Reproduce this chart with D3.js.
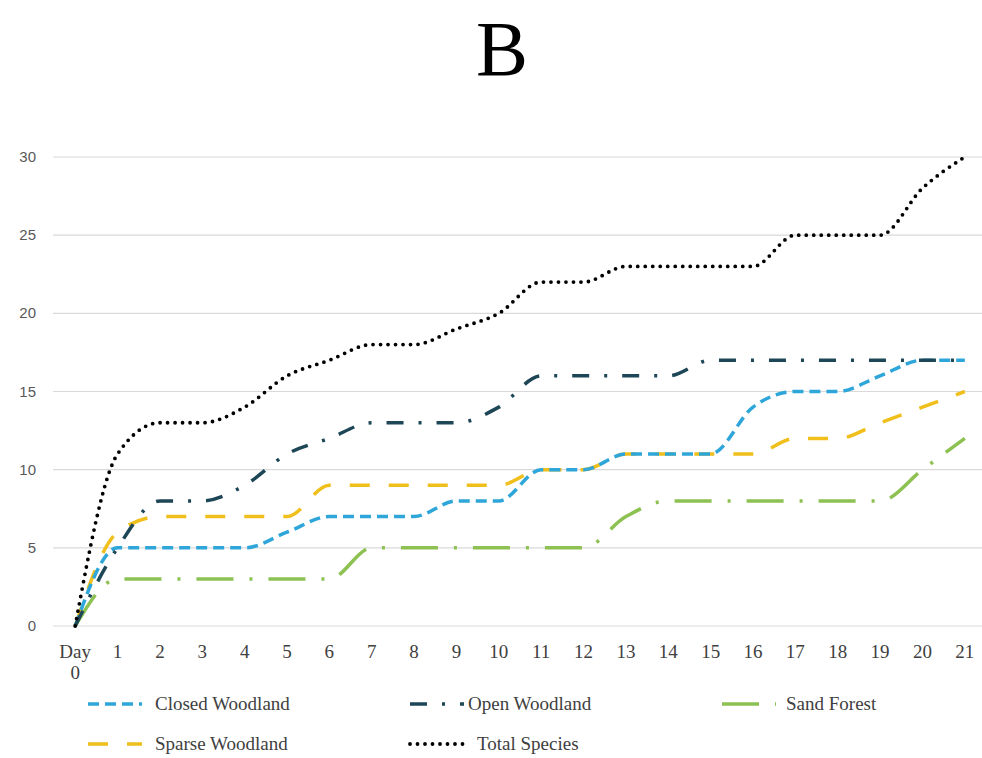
<!DOCTYPE html>
<html><head><meta charset="utf-8">
<script src="https://cdn.jsdelivr.net/npm/d3@7"></script>
<style>body{margin:0;background:#fff}svg{display:block}</style>
</head><body>
<svg id="c" width="982" height="758"></svg>
<script>
const days = d3.range(0,22);
const xLabels = ["Day 0","1","2","3","4","5","6","7","8","9","10","11","12","13","14","15","16","17","18","19","20","21"];
const yTicks = [0,5,10,15,20,25,30];
const closedWoodland = [0,5,5,5,5,6,7,7,7,8,8,10,10,11,11,11,14,15,15,16,17,17];
const openWoodland   = [0,5,8,8,9,11,12,13,13,13,14,16,16,16,16,17,17,17,17,17,17,17];
const sandForest     = [0,3,3,3,3,3,3,5,5,5,5,5,5,7,8,8,8,8,8,8,10,12];
const sparseWoodland = [0,6,7,7,7,7,9,9,9,9,9,10,10,11,11,11,11,12,12,13,14,15];
const totalSpecies   = [0,11,13,13,14,16,17,18,18,19,20,22,22,23,23,23,23,25,25,25,28,30];

const series = [
  {name:"Closed Woodland", values:closedWoodland, color:"#2fa6d9", dash:"11,6", cap:"butt", w:3.5},
  {name:"Open Woodland", values:openWoodland, color:"#1d4656", dash:"17,15,3,15", cap:"butt", w:3.5},
  {name:"Sand Forest", values:sandForest, color:"#8dc152", dash:"37,16,3,16", cap:"butt", w:3.5},
  {name:"Sparse Woodland", values:sparseWoodland, color:"#f0bf1c", dash:"20,19", cap:"butt", w:3.5},
  {name:"Total Species", values:totalSpecies, color:"#000000", dash:"0,7.5", cap:"round", w:3.8}
];

const svg = d3.select("#c");
const L=54, R=986, T=157, B=626;
const x = d3.scalePoint().domain(days).range([L,R]).padding(0.5);
const y = d3.scaleLinear().domain([0,30]).range([B,T]);
const serif = "'Liberation Serif','Times New Roman',serif";

svg.append("text").attr("x",502).attr("y",75).attr("text-anchor","middle")
  .attr("font-family",serif).attr("font-size",78).attr("fill","#000").text("B");

// grid
svg.append("g").selectAll("line").data(yTicks).join("line")
  .attr("x1",53).attr("x2",982).attr("y1",d=>y(d)).attr("y2",d=>y(d))
  .attr("stroke","#d9d9d9").attr("stroke-width",1.2);

// y axis labels
svg.append("g").selectAll("text").data(yTicks).join("text")
  .attr("x",36).attr("y",d=>y(d)+5).attr("text-anchor","end")
  .attr("font-family","'Liberation Sans',Arial,sans-serif").attr("font-size",15).attr("fill","#595959")
  .text(d=>d);

// x axis labels
const xg = svg.append("g").attr("font-family",serif).attr("font-size",19).attr("fill","#404040");
days.forEach((d,i)=>{
  const parts = xLabels[i].split(" ");
  const t = xg.append("text").attr("x",x(d)).attr("y",658).attr("text-anchor","middle");
  parts.forEach((p,j)=>t.append("tspan").attr("x",x(d)).attr("dy",j?21:0).text(p));
});

const line = d3.line().x((d,i)=>x(days[i])).y(d=>y(d)).curve(d3.curveMonotoneX);
const order = [2,3,0,1,4];
order.forEach(k=>{
  const s=series[k];
  svg.append("path").attr("d",line(s.values)).attr("fill","none")
    .attr("stroke",s.color).attr("stroke-width",s.w).attr("stroke-dasharray",s.dash)
    .attr("stroke-linecap",s.cap).attr("stroke-linejoin","round");
});

// legend
const legPos = [[88,704],[410,704],[722,704],[88,744],[410,744]];
series.forEach((s,i)=>{
  const [lx,ly]=legPos[i];
  const g = svg.append("g");
  g.append("line").attr("x1",lx).attr("x2",lx+54).attr("y1",ly).attr("y2",ly)
   .attr("stroke",s.color).attr("stroke-width",s.w).attr("stroke-dasharray",s.dash).attr("stroke-linecap",s.cap);
  g.append("text").attr("x",lx+(i===1?58:i===2?64:67)).attr("y",ly+6)
   .attr("font-family",serif).attr("font-size",19).attr("fill","#404040").text(s.name);
});
</script>
</body></html>
